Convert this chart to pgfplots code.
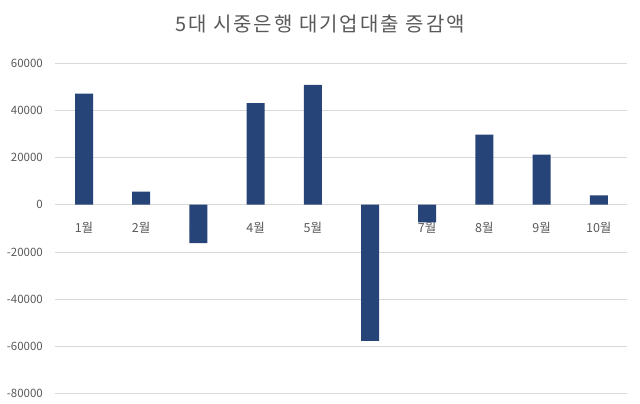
\documentclass[border=0pt]{standalone}
\usepackage{fontspec}
\setmainfont{Noto Sans CJK KR}
\newfontfamily\titlefont[LetterSpace=10]{Noto Sans CJK KR}
\usepackage{pgfplots}
\pgfplotsset{compat=1.18}
\definecolor{barblue}{HTML}{264478}
\definecolor{txtgray}{HTML}{595959}
\definecolor{gridgray}{HTML}{D9D9D9}
\begin{document}
\begin{tikzpicture}
\begin{axis}[
	set layers,
	scale only axis,
	width=572bp, height=330.7bp,
	xmin=0.5, xmax=10.5,
	ymin=-80000, ymax=60000,
	ytick distance=20000,
	scaled y ticks=false,
	axis x line=middle,
	axis y line=left,
	x axis line style={-, draw=gridgray, line width=0.8bp},
	y axis line style={draw=none},
	major tick length=0pt,
	ymajorgrids,
	grid style={gridgray, line width=0.8bp},
	xtick={1,...,10},
	xticklabels={1월,2월,3월,4월,5월,6월,7월,8월,9월,10월},
	xticklabel style={font=\fontsize{12.5bp}{14bp}\selectfont, text=txtgray, yshift=-14bp},
	yticklabel style={font=\fontsize{11.5bp}{13bp}\selectfont, text=txtgray, anchor=east, xshift=-9bp},
	/pgf/number format/assume math mode=true,
	/pgf/number format/1000 sep={},
	title={5대 시중은행 대기업대출 증감액},
	title style={at={(0.4626,1.0786)}, anchor=base, text=txtgray, font=\titlefont\fontsize{20bp}{23bp}\selectfont},
	clip=false,
]
\addplot[ybar, bar width=18bp, fill=barblue, draw=none]
	coordinates {(1,47000) (2,5500) (3,-16300) (4,43000) (5,50700)
		(6,-57600) (7,-7500) (8,29700) (9,21200) (10,4000)};
\end{axis}
\pgfresetboundingbox
\path[use as bounding box] (-55.4bp,-10.3bp) rectangle (584.6bp,393.7bp);
\end{tikzpicture}
\end{document}
